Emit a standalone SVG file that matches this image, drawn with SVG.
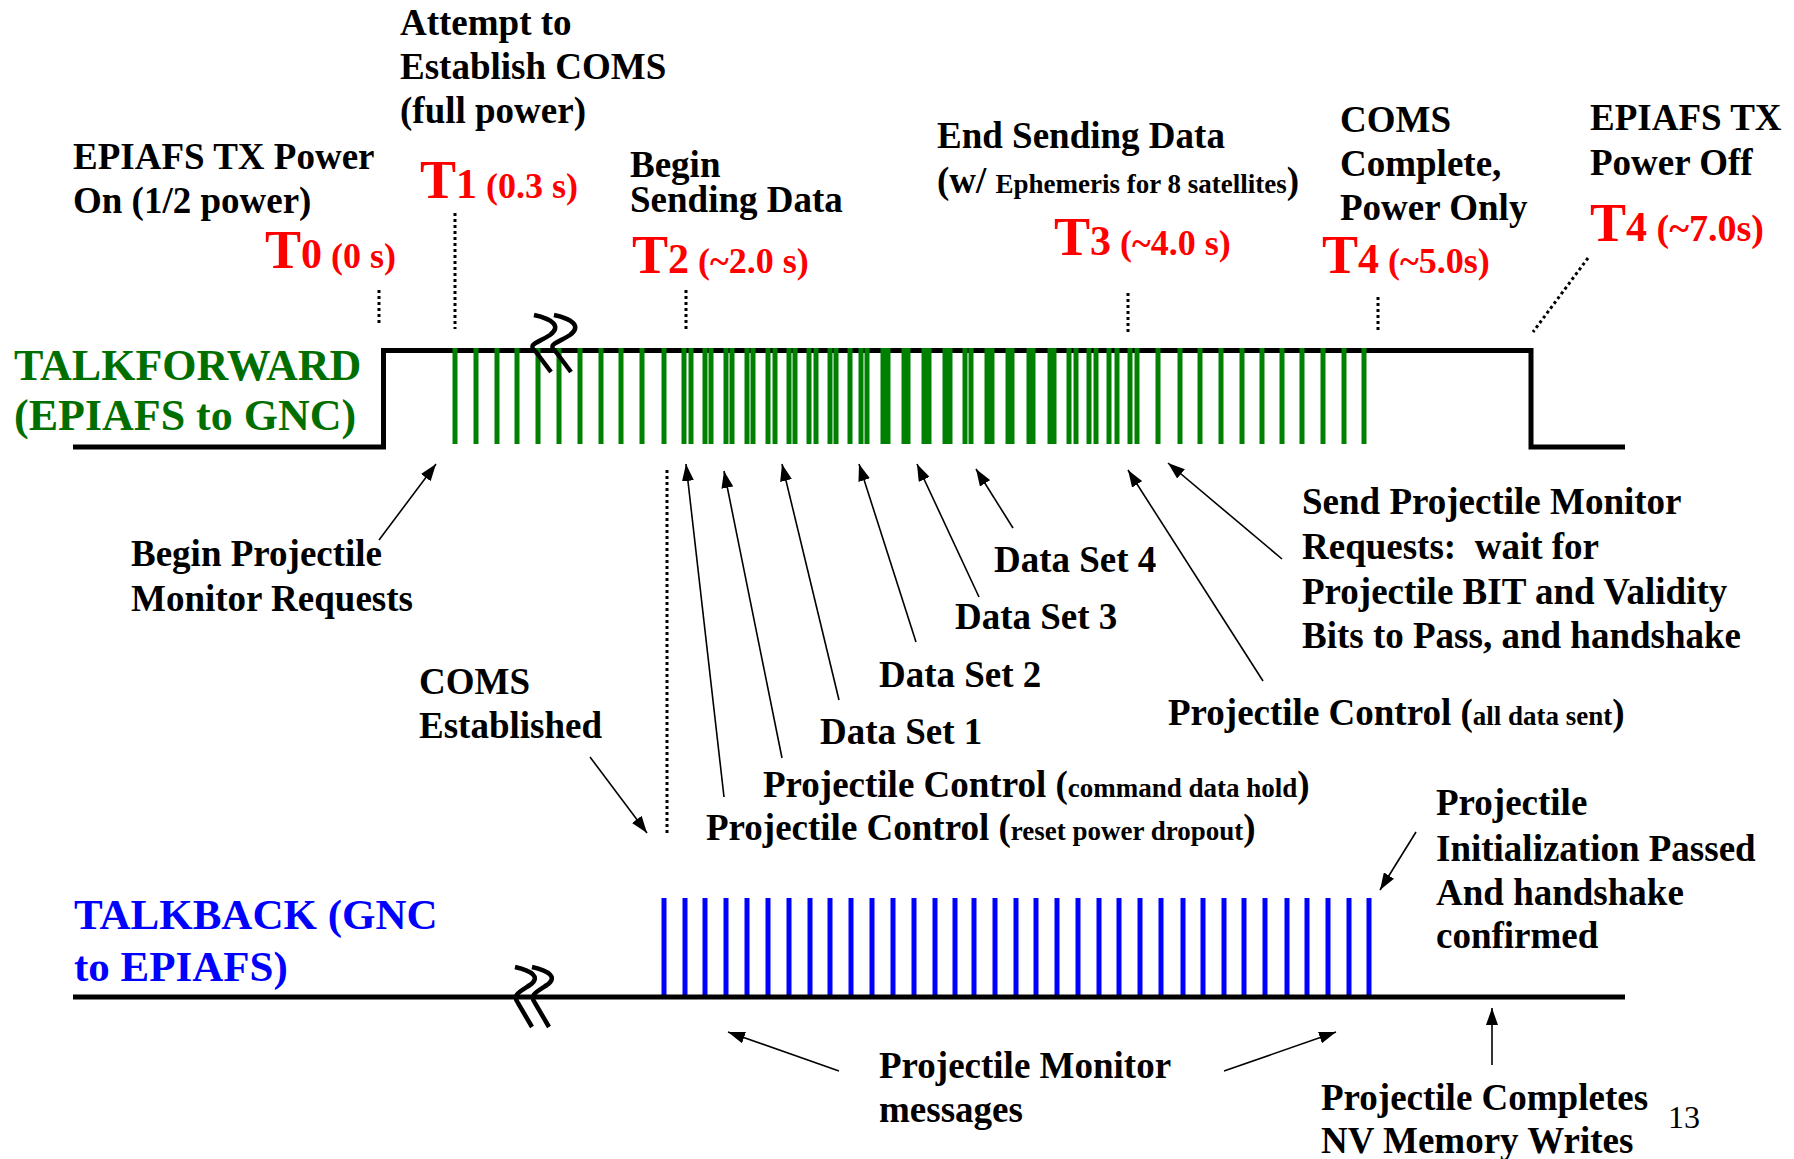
<svg xmlns="http://www.w3.org/2000/svg" width="1794" height="1159" viewBox="0 0 1794 1159">
<style>
text{font-family:"Liberation Serif","Times New Roman",serif;font-weight:bold;font-size:37px;fill:#000;white-space:pre}
.sm{font-size:27px}
.red{fill:#ff0000}
.tb{font-size:54px}
.td{font-size:42px}
.tp{font-size:36px}
.tp2{font-size:38px}
.grn{fill:#006f00;font-size:44px}
.blu{fill:#0000ff;font-size:43px}
.num{font-weight:normal;font-size:32px}
.sig{fill:none;stroke:#000;stroke-width:5}
.brk{fill:none;stroke:#000;stroke-width:4.5}
.dot{fill:none;stroke:#000;stroke-width:3;stroke-dasharray:3 3}
.arr{fill:none;stroke:#000;stroke-width:1.6;marker-end:url(#ah)}
</style>
<defs>
<marker id="ah" markerUnits="userSpaceOnUse" markerWidth="18" markerHeight="12" refX="17" refY="6" orient="auto">
<path d="M0,0 L17,6 L0,12 Z" fill="#000"/>
</marker>
</defs>
<rect width="1794" height="1159" fill="#fff"/>

<g id="talkforward-signal">
<path class="sig" d="M73,447 H383.5 V350.5 H1531 V447 H1625"/>
<path stroke="#008000" stroke-width="5" fill="none" d="M455,348V444M476,348V444M497,348V444M517,348V444M538,348V444M559,348V444M580,348V444M601,348V444M621,348V444M642,348V444M664,348V444M684,348V444M691,348V444M705,348V444M711,348V444M726,348V444M732,348V444M747,348V444M753,348V444M768,348V444M775,348V444M789,348V444M795,348V444M809,348V444M816,348V444M830,348V444M836,348V444M850,348V444M861,348V444M867,348V444M883,348V444M888,348V444M904,348V444M908,348V444M924,348V444M929,348V444M945,348V444M950,348V444M965,348V444M971,348V444M987,348V444M992,348V444M1008,348V444M1012,348V444M1029,348V444M1033,348V444M1050,348V444M1054,348V444M1069,348V444M1076,348V444M1089,348V444M1096,348V444M1109,348V444M1117,348V444M1130,348V444M1137,348V444M1158,348V444M1180,348V444M1200,348V444M1221,348V444M1242,348V444M1262,348V444M1282,348V444M1302,348V444M1323,348V444M1344,348V444M1364,348V444"/>
<path class="brk" d="M534,315 C552,319 562,326 550,335 C538,343 526,344 536,352 L551,372"/>
<path class="brk" d="M554,315 C572,319 582,326 570,335 C558,343 546,344 556,352 L571,372"/>
</g>

<g id="talkback-signal">
<path stroke="#0000ff" stroke-width="5" fill="none" d="M664,898V997M685,898V997M705,898V997M726,898V997M747,898V997M768,898V997M789,898V997M810,898V997M830,898V997M851,898V997M872,898V997M893,898V997M914,898V997M935,898V997M955,898V997M974,898V997M995,898V997M1016,898V997M1036,898V997M1057,898V997M1078,898V997M1099,898V997M1119,898V997M1140,898V997M1161,898V997M1183,898V997M1203,898V997M1224,898V997M1244,898V997M1265,898V997M1287,898V997M1307,898V997M1328,898V997M1349,898V997M1369,898V997"/>
<path class="sig" d="M73,997 H1625"/>
<path class="brk" d="M515,967 C532,971 541,977 530,985 C519,992 512,995 518,1003 L532,1027"/>
<path class="brk" d="M532,967 C549,971 558,977 547,985 C536,992 529,995 535,1003 L549,1027"/>
</g>

<g id="markers">
<path class="dot" d="M379,290 V326"/>
<path class="dot" d="M455,213 V329"/>
<path class="dot" d="M686,290 V332"/>
<path class="dot" d="M1128,293 V334"/>
<path class="dot" d="M1378,297 V332"/>
<path class="dot" d="M1588,258 L1533,332"/>
<path class="dot" d="M667,470 V833"/>
</g>

<g id="connectors">
<path class="arr" d="M379,540 L436,464"/>
<path class="arr" d="M590,757 L647,833"/>
<path class="arr" d="M724,797 L686,464"/>
<path class="arr" d="M782,758 L724,471"/>
<path class="arr" d="M839,700 L782,464"/>
<path class="arr" d="M916,642 L859,464"/>
<path class="arr" d="M979,597 L917,464"/>
<path class="arr" d="M1013,528 L976,469"/>
<path class="arr" d="M1263,681 L1128,470"/>
<path class="arr" d="M1282,559 L1168,463"/>
<path class="arr" d="M1416,832 L1380,890"/>
<path class="arr" d="M839,1071 L728,1032"/>
<path class="arr" d="M1224,1071 L1336,1032"/>
<path class="arr" d="M1492,1065 L1492,1008"/>
</g>

<g id="t0">
<text x="73" y="169">EPIAFS TX Power</text>
<text x="73" y="213">On (1/2 power)</text>
<text x="265" y="268" class="red"><tspan class="tb">T</tspan><tspan class="td">0</tspan><tspan class="tp"> (0 s)</tspan></text>
</g>
<g id="t1">
<text x="400" y="35">Attempt to</text>
<text x="400" y="79">Establish COMS</text>
<text x="400" y="123">(full power)</text>
<text x="420" y="198" class="red"><tspan class="tb">T</tspan><tspan class="td">1</tspan><tspan class="tp"> (0.3 s)</tspan></text>
</g>
<g id="t2">
<text x="630" y="177">Begin</text>
<text x="630" y="212">Sending Data</text>
<text x="632" y="273" class="red"><tspan class="tb">T</tspan><tspan class="td">2</tspan><tspan class="tp"> (~2.0 s)</tspan></text>
</g>
<g id="t3">
<text x="937" y="148">End Sending Data</text>
<text x="937" y="193">(w/ <tspan class="sm">Ephemeris for 8 satellites</tspan>)</text>
<text x="1054" y="255" class="red"><tspan class="tb">T</tspan><tspan class="td">3</tspan><tspan class="tp"> (~4.0 s)</tspan></text>
</g>
<g id="t4a">
<text x="1340" y="132">COMS</text>
<text x="1340" y="176">Complete,</text>
<text x="1340" y="220">Power Only</text>
<text x="1322" y="273" class="red"><tspan class="tb">T</tspan><tspan class="td">4</tspan><tspan class="tp"> (~5.0s)</tspan></text>
</g>
<g id="t4b">
<text x="1590" y="130">EPIAFS TX</text>
<text x="1590" y="175">Power Off</text>
<text x="1590" y="241" class="red"><tspan class="tb">T</tspan><tspan class="td">4</tspan><tspan class="tp2"> (~7.0s)</tspan></text>
</g>
<g id="talkforward-label">
<text x="14" y="380" class="grn">TALKFORWARD</text>
<text x="14" y="430" class="grn">(EPIAFS to GNC)</text>
</g>
<g id="talkback-label">
<text x="74" y="929" class="blu">TALKBACK (GNC</text>
<text x="74" y="981" class="blu">to EPIAFS)</text>
</g>
<g id="begin-requests">
<text x="131" y="566">Begin Projectile</text>
<text x="131" y="611">Monitor Requests</text>
</g>
<g id="coms-established">
<text x="419" y="694">COMS</text>
<text x="419" y="738">Established</text>
</g>
<g id="data-sets">
<text x="994" y="572">Data Set 4</text>
<text x="955" y="629">Data Set 3</text>
<text x="879" y="687">Data Set 2</text>
<text x="820" y="744">Data Set 1</text>
</g>
<g id="control-hold"><text x="763" y="797">Projectile Control (<tspan class="sm">command data hold</tspan>)</text></g>
<g id="control-reset"><text x="706" y="840">Projectile Control (<tspan class="sm">reset power dropout</tspan>)</text></g>
<g id="control-sent"><text x="1168" y="725">Projectile Control (<tspan class="sm">all data sent</tspan>)</text></g>
<g id="send-requests">
<text x="1302" y="514">Send Projectile Monitor</text>
<text x="1302" y="559">Requests:  wait for</text>
<text x="1302" y="604">Projectile BIT and Validity</text>
<text x="1302" y="648">Bits to Pass, and handshake</text>
</g>
<g id="init-passed">
<text x="1436" y="815">Projectile</text>
<text x="1436" y="861">Initialization Passed</text>
<text x="1436" y="905">And handshake</text>
<text x="1436" y="948">confirmed</text>
</g>
<g id="monitor-messages">
<text x="879" y="1078">Projectile Monitor</text>
<text x="879" y="1122">messages</text>
</g>
<g id="nv-writes">
<text x="1321" y="1110">Projectile Completes</text>
<text x="1321" y="1153">NV Memory Writes</text>
</g>
<g id="page-number"><text x="1668" y="1128" class="num">13</text></g>
</svg>
